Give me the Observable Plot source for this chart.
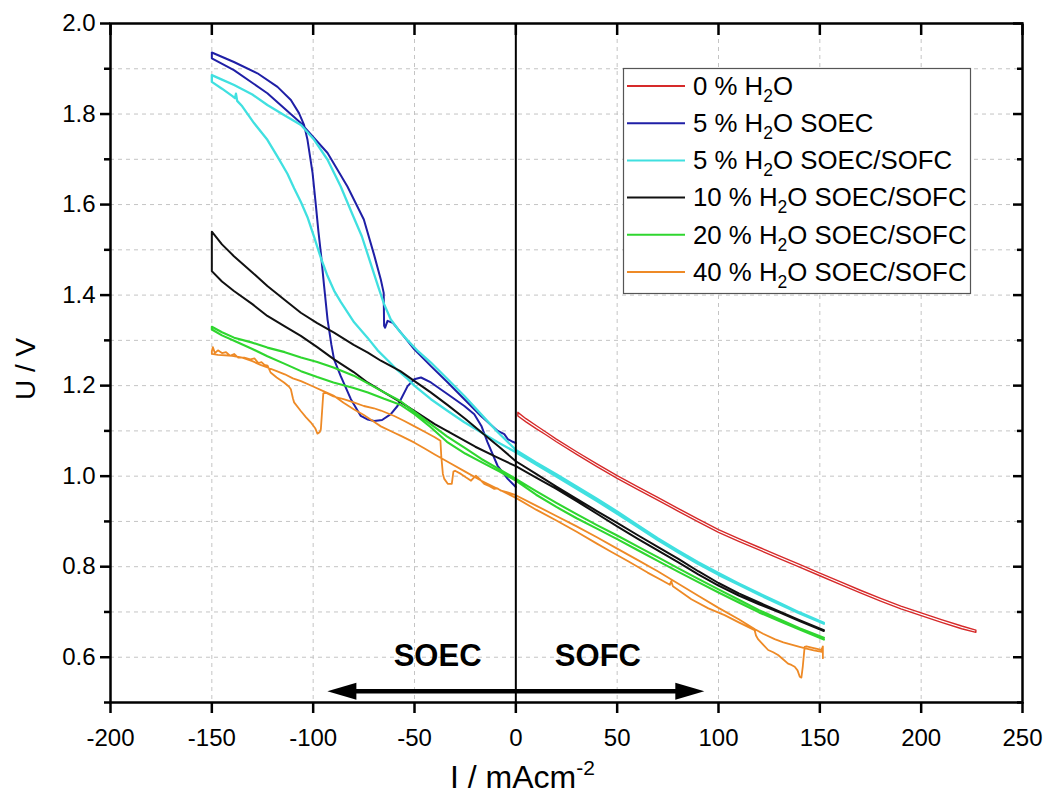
<!DOCTYPE html>
<html><head><meta charset="utf-8">
<script src="https://cdn.jsdelivr.net/npm/d3@7"></script>
<script src="https://cdn.jsdelivr.net/npm/@observablehq/plot@0.6"></script>
<style>body{margin:0;background:#fff}#chart{width:1049px;height:798px}</style>
</head><body><div id="chart"></div>
<script>
const FONT = "'Liberation Sans', Arial, Helvetica, sans-serif";

// ---------- data ----------
const seriesNames = ["0 % H2O", "5 % H2O SOEC", "5 % H2O SOEC/SOFC", "10 % H2O SOEC/SOFC", "20 % H2O SOEC/SOFC", "40 % H2O SOEC/SOFC"];
const seriesColors = ["#d62a2a", "#1f1fa6", "#40e0e0", "#111111", "#2fd62f", "#ee8a26"];

const xTicks = [-200, -150, -100, -50, 0, 50, 100, 150, 200, 250];
const xGrid = [-150, -100, -50, 50, 100, 150, 200];
const yMajor = [0.6, 0.8, 1.0, 1.2, 1.4, 1.6, 1.8, 2.0];
const yMinor = [0.5, 0.7, 0.9, 1.1, 1.3, 1.5, 1.7, 1.9];
const yGrid = [0.6, 0.7, 0.8, 0.9, 1.0, 1.1, 1.2, 1.3, 1.4, 1.5, 1.6, 1.7, 1.8, 1.9];

// [I (mA/cm2), U (V)]
const red_up = [[1,1.141],[5,1.127],[10,1.112],[15,1.097],[20,1.082],[30,1.054],[40,1.027],[50,1.001],[60,0.977],[70,0.953],[80,0.929],[90,0.905],[100,0.882],[110,0.862],[120,0.843],[130,0.824],[140,0.805],[150,0.786],[160,0.767],[170,0.748],[180,0.730],[190,0.713],[200,0.698],[210,0.683],[220,0.669],[227,0.660]];
const red_down = [[1,1.133],[5,1.120],[10,1.105],[15,1.091],[20,1.076],[30,1.048],[40,1.021],[50,0.995],[60,0.971],[70,0.947],[80,0.923],[90,0.899],[100,0.876],[110,0.856],[120,0.837],[130,0.818],[140,0.799],[150,0.780],[160,0.761],[170,0.742],[180,0.724],[190,0.707],[200,0.692],[210,0.677],[220,0.663],[227,0.655]];

const blue_loop = [[0,0.976],[-4,0.994],[-9,1.023],[-14,1.075],[-17,1.111],[-20.5,1.137],[-25.4,1.155],[-33.6,1.181],[-41.9,1.207],[-46.8,1.218],[-50.1,1.214],[-53.4,1.199],[-58.4,1.155],[-61.7,1.137],[-66,1.124],[-69.9,1.122],[-73,1.125],[-76.5,1.133],[-81.4,1.170],[-86.4,1.221],[-89.7,1.258],[-91,1.290],[-92.9,1.346],[-94.6,1.420],[-96.2,1.493],[-97.4,1.540],[-98.7,1.600],[-100.3,1.670],[-102.8,1.743],[-104.5,1.776],[-107,1.802],[-111,1.831],[-117.6,1.860],[-127.5,1.890],[-139.1,1.915],[-150,1.936],[-150,1.923],[-139.1,1.897],[-122.6,1.846],[-106.1,1.780],[-92.9,1.714],[-83.1,1.640],[-75,1.567],[-70,1.490],[-66.6,1.434],[-65.2,1.405],[-65,1.332],[-64.5,1.328],[-63.3,1.343],[-60.8,1.339],[-56.7,1.317],[-50.1,1.280],[-41.9,1.243],[-33.6,1.207],[-25.4,1.170],[-17.2,1.133],[-8.9,1.100],[-5.7,1.093],[-4,1.082],[-1.5,1.076],[0,1.073]];

const cyan_up = [[-150,1.886],[-145,1.876],[-139,1.864],[-130,1.843],[-122.6,1.820],[-114,1.797],[-106,1.776],[-99.5,1.743],[-92.9,1.699],[-86.4,1.640],[-80.6,1.578],[-76,1.530],[-72,1.475],[-68,1.420],[-65,1.380],[-61.7,1.346],[-57,1.318],[-53.4,1.300],[-48,1.275],[-41.9,1.251],[-33.6,1.214],[-25.4,1.177],[-17.2,1.137],[-8.9,1.097],[0,1.058],[10,1.030],[20,1.004],[30,0.977],[40,0.950],[50,0.922],[60,0.892],[70,0.863],[80,0.836],[90,0.810],[100,0.786],[110,0.763],[120,0.741],[130,0.720],[140,0.699],[152,0.676]];
const cyan_down = [[-150,1.871],[-145,1.856],[-140,1.840],[-138.6,1.835],[-138.1,1.845],[-137.5,1.829],[-135,1.817],[-129.2,1.780],[-122.6,1.743],[-117.6,1.706],[-112.7,1.668],[-109.4,1.636],[-106,1.605],[-102.8,1.572],[-99.5,1.528],[-96.2,1.482],[-92.9,1.442],[-89.7,1.410],[-86.4,1.385],[-79.8,1.340],[-73.2,1.306],[-68.2,1.278],[-63,1.255],[-58.4,1.234],[-53.4,1.215],[-50.1,1.200],[-41.9,1.170],[-33.6,1.144],[-25.4,1.119],[-17.2,1.097],[-8.9,1.075],[0,1.053],[10,1.026],[20,0.999],[30,0.972],[40,0.945],[50,0.917],[60,0.888],[70,0.859],[80,0.832],[90,0.806],[100,0.782],[110,0.760],[120,0.738],[130,0.717],[140,0.697],[152,0.674]];

const black_up = [[-150,1.540],[-145,1.512],[-139.1,1.486],[-130,1.450],[-122.6,1.420],[-114,1.389],[-106.1,1.361],[-98,1.338],[-89.7,1.317],[-80,1.290],[-73,1.273],[-66.6,1.255],[-57,1.232],[-50,1.210],[-42,1.185],[-33.6,1.157],[-25,1.127],[-17,1.097],[-8,1.064],[0,1.033],[10,1.005],[20,0.977],[30,0.950],[40,0.923],[50,0.897],[60,0.870],[70,0.844],[80,0.818],[90,0.790],[100,0.764],[110,0.741],[120,0.721],[130,0.701],[140,0.682],[152,0.660]];
const black_down = [[-150,1.453],[-145,1.430],[-139.1,1.409],[-130,1.380],[-122.6,1.354],[-114,1.331],[-106.1,1.310],[-98,1.285],[-89.7,1.258],[-80,1.230],[-73.2,1.207],[-65,1.185],[-56.7,1.163],[-48,1.138],[-40,1.115],[-30,1.090],[-20,1.065],[-10,1.043],[0,1.022],[10,0.997],[20,0.972],[30,0.945],[40,0.917],[50,0.889],[60,0.862],[70,0.836],[80,0.810],[90,0.783],[100,0.758],[110,0.736],[120,0.717],[130,0.699],[140,0.680],[152,0.658]];

const green_up = [[-150,1.330],[-145,1.318],[-139,1.306],[-130,1.295],[-122.6,1.284],[-114,1.274],[-106,1.262],[-98,1.252],[-90,1.240],[-80,1.222],[-73,1.205],[-65,1.185],[-57,1.166],[-50,1.142],[-42,1.115],[-34,1.088],[-25,1.062],[-17,1.038],[-8,1.015],[0,0.994],[10,0.967],[20,0.941],[30,0.916],[40,0.892],[50,0.869],[60,0.845],[70,0.821],[80,0.797],[90,0.773],[100,0.750],[110,0.727],[120,0.704],[130,0.684],[140,0.664],[152,0.643]];
const green_down = [[-150,1.324],[-145,1.311],[-139,1.299],[-130,1.281],[-122.6,1.265],[-114,1.248],[-106,1.232],[-98,1.219],[-90,1.207],[-80,1.195],[-73,1.185],[-65,1.171],[-57,1.158],[-50,1.137],[-42,1.108],[-34,1.076],[-25,1.050],[-17,1.031],[-8,1.010],[0,0.990],[10,0.959],[20,0.932],[30,0.907],[40,0.884],[50,0.861],[60,0.837],[70,0.813],[80,0.789],[90,0.766],[100,0.743],[110,0.721],[120,0.699],[130,0.680],[140,0.661],[152,0.639]];

const orange_up = [[-150,1.276],[-149.5,1.285],[-148.5,1.272],[-147,1.278],[-145,1.272],[-143,1.274],[-141,1.266],[-139,1.270],[-137,1.262],[-134,1.262],[-131,1.258],[-129,1.260],[-127,1.250],[-125.5,1.252],[-124,1.246],[-122.5,1.244],[-121,1.229],[-118,1.218],[-114.4,1.207],[-112,1.198],[-111,1.192],[-110,1.172],[-109.4,1.163],[-106.1,1.144],[-103.5,1.130],[-101.2,1.119],[-99,1.106],[-97.9,1.094],[-96.8,1.097],[-96.2,1.104],[-95.5,1.150],[-95,1.183],[-93.5,1.184],[-90,1.176],[-85,1.170],[-80,1.163],[-75,1.155],[-70,1.150],[-66.6,1.145],[-60,1.133],[-55,1.122],[-50,1.110],[-45,1.098],[-40,1.086],[-37.2,1.078],[-36.8,1.045],[-36,1.005],[-35.3,0.994],[-33.6,0.983],[-31.6,0.983],[-30.8,1.010],[-30,1.012],[-27.1,1.005],[-24.5,0.997],[-22.1,0.990],[-20.5,0.998],[-19.7,1.001],[-17.5,0.992],[-15.6,0.983],[-13,0.978],[-10.6,0.972],[-9,0.973],[-7.3,0.968],[-4,0.964],[0,0.958],[10,0.935],[20,0.912],[30,0.889],[40,0.865],[50,0.840],[60,0.815],[70,0.790],[80,0.763],[90,0.736],[100,0.709],[110,0.684],[118,0.662],[122,0.652],[127.7,0.640],[132,0.633],[136,0.628],[140,0.623],[143.4,0.619],[147,0.615],[151,0.612]];
const orange_down = [[-150,1.270],[-147,1.268],[-140,1.266],[-135,1.262],[-130,1.254],[-126,1.246],[-122.6,1.240],[-118,1.232],[-114,1.225],[-110,1.216],[-106,1.210],[-100,1.198],[-95,1.188],[-90,1.178],[-85,1.162],[-80,1.148],[-75,1.135],[-70,1.120],[-66.6,1.110],[-60,1.096],[-56.7,1.089],[-50,1.074],[-45,1.061],[-40,1.048],[-33,1.030],[-25,1.010],[-17,0.990],[-8,0.970],[0,0.952],[10,0.926],[20,0.902],[30,0.877],[40,0.851],[47,0.833],[55,0.813],[65,0.787],[72,0.770],[76,0.760],[76.7,0.768],[77.5,0.757],[86.6,0.728],[95,0.708],[103,0.693],[110,0.677],[117.8,0.660],[118.5,0.648],[119.5,0.640],[122,0.628],[124.5,0.616],[127,0.611],[129.4,0.605],[132,0.595],[134.3,0.586],[136,0.583],[137.6,0.579],[139,0.571],[140.1,0.557],[140.9,0.555],[141.6,0.580],[142.5,0.623],[143.4,0.624],[147,0.620],[150.8,0.616],[151.5,0.624],[151.5,0.598]];

const regionLabels = [{label: "SOEC", I: -38.6, U: 0.602}, {label: "SOFC", I: 40.5, U: 0.602}];
const arrows = [{from: 0, shaft: -82, to: -93, U: 0.525, dir: 180}, {from: 0, shaft: 82, to: 93, U: 0.525, dir: 0}];

// ---------- build ----------
const rev = a => a.slice().reverse();
const paths = [
  {name: seriesNames[0], color: seriesColors[0], w: 1.4, pts: [...red_up, ...rev(red_down), red_up[0]]},
  {name: seriesNames[1], color: seriesColors[1], w: 2, pts: blue_loop},
  {name: seriesNames[2], color: seriesColors[2], w: 2.3, pts: [...rev(cyan_down), ...cyan_up]},
  {name: seriesNames[3], color: seriesColors[3], w: 2, pts: [...rev(black_down), ...black_up]},
  {name: seriesNames[4], color: seriesColors[4], w: 2.1, pts: [...rev(green_down), ...green_up]},
  {name: seriesNames[5], color: seriesColors[5], w: 1.8, pts: [...rev(orange_down), ...orange_up]}
];

const headSymbol = {draw(ctx) { ctx.moveTo(0, 0); ctx.lineTo(-29, -8.5); ctx.lineTo(-29, 8.5); ctx.closePath(); }};
const grid = {stroke: "#c4c4c4", strokeOpacity: 1, strokeWidth: 1, strokeDasharray: "4,4"};

const chart = Plot.plot({
  width: 1049, height: 798,
  marginLeft: 110, marginRight: 27, marginTop: 23, marginBottom: 96,
  x: {domain: [-200, 250]},
  y: {domain: [0.5, 2.0]},
  style: {fontFamily: FONT, color: "black", background: "white"},
  marks: [
    Plot.gridX(xGrid, grid),
    Plot.gridY(yGrid, grid),
    ...paths.map(p => Plot.line(p.pts, {x: d => d[0], y: d => d[1], stroke: p.color, strokeWidth: p.w, strokeLinejoin: "round"})),
    Plot.ruleX([0], {stroke: "black", strokeWidth: 2}),
    Plot.frame({stroke: "black", strokeWidth: 2.5}),
    Plot.axisX(xTicks, {anchor: "bottom", tickSize: 11, tickPadding: 15, fontSize: 24, tickFormat: d => String(d), label: null, strokeWidth: 2.5}),
    Plot.axisX(xTicks, {anchor: "top", tickSize: -11, tickFormat: () => "", label: null, strokeWidth: 2.5}),
    Plot.axisY(yMajor, {anchor: "left", tickSize: 10, tickPadding: 5, fontSize: 24, tickFormat: d => d.toFixed(1), label: null, strokeWidth: 2.5}),
    Plot.axisY(yMinor, {anchor: "left", tickSize: 6, tickFormat: () => "", label: null, strokeWidth: 2.5}),
    Plot.axisY(yMajor, {anchor: "right", tickSize: -10, tickFormat: () => "", label: null, strokeWidth: 2.5}),
    Plot.axisY(yMinor, {anchor: "right", tickSize: -6, tickFormat: () => "", label: null, strokeWidth: 2.5}),
    Plot.link(arrows, {x1: "from", x2: "shaft", y1: "U", y2: "U", stroke: "black", strokeWidth: 4.5}),
    Plot.dot(arrows, {x: "to", y: "U", symbol: headSymbol, r: 10, fill: "black", stroke: null, rotate: "dir"}),
    Plot.text(regionLabels, {x: "I", y: "U", text: "label", fontSize: 31, fontWeight: "bold", fill: "black"}),
    Plot.text(["U / V"], {frameAnchor: "left", textAnchor: "middle", lineAnchor: "middle", rotate: -90, dx: -84, dy: 6, fontSize: 28, fill: "black"}),
    Plot.text(["I / mAcm-2"], {frameAnchor: "bottom", textAnchor: "middle", lineAnchor: "middle", dx: -44, dy: 75, fontSize: 32, fill: "black"})
  ]
});
document.getElementById("chart").appendChild(chart);

// ---------- post: superscript and legend ----------
const svg = d3.select(chart);
svg.selectAll("text").filter(function () { return this.textContent === "I / mAcm-2"; }).each(function () {
  const t = d3.select(this);
  t.text("I / mAcm");
  t.append("tspan").attr("dy", -13).attr("font-size", 21).text("-2");
});

const lg = svg.append("g").attr("font-family", FONT).attr("font-size", 25.8).attr("fill", "black").attr("text-anchor", "start");
lg.append("rect").attr("x", 623.5).attr("y", 68.5).attr("width", 347).attr("height", 225)
  .attr("fill", "#fff").attr("stroke", "#555").attr("stroke-width", 1.2);
seriesNames.forEach((name, i) => {
  const cy = 86 + 37.2 * i;
  lg.append("line").attr("x1", 627).attr("x2", 685).attr("y1", cy).attr("y2", cy)
    .attr("stroke", seriesColors[i]).attr("stroke-width", 2);
  const [pre, post] = name.split("H2O");
  const t = lg.append("text").attr("x", 693).attr("y", cy + 8.8).attr("text-anchor", "start");
  t.append("tspan").text(pre + "H");
  t.append("tspan").attr("dy", 7).attr("font-size", 17.5).text("2");
  t.append("tspan").attr("dy", -7).text("O" + post);
});
</script>
</body></html>
